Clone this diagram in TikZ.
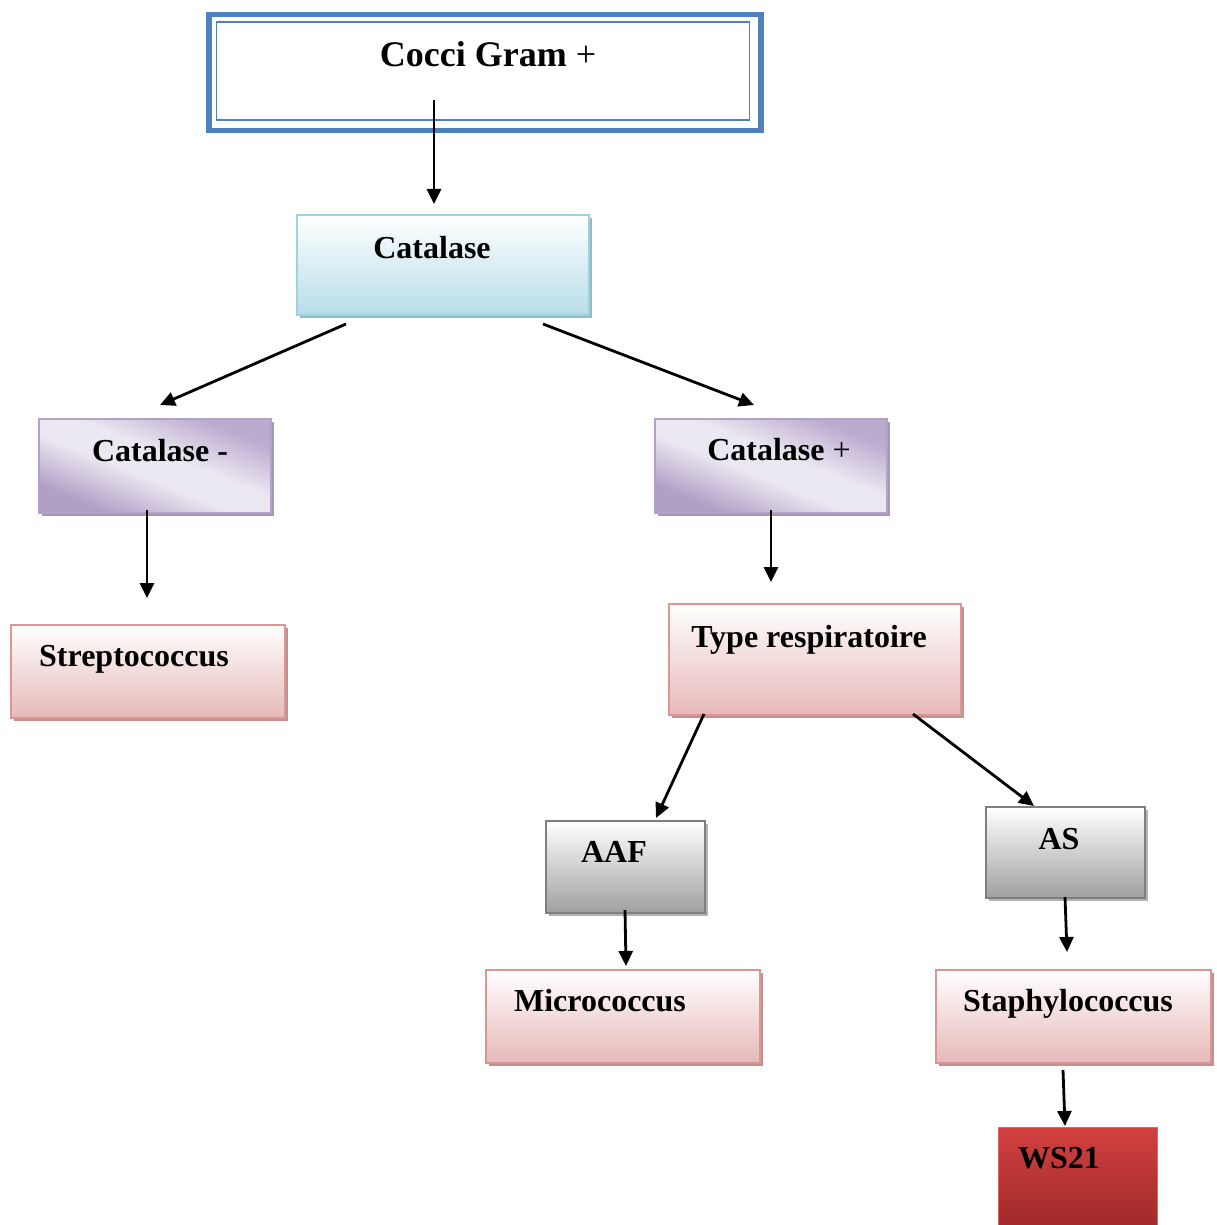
\documentclass[tikz,border=0pt]{standalone}
\usepackage{fontspec}
\setmainfont{Liberation Serif}
\usetikzlibrary{arrows.meta,shadows}

\definecolor{titleblue}{HTML}{4F81BD}
\definecolor{cyanedge}{HTML}{9DD3E0}
\definecolor{cyanfill}{HTML}{B6DEE8}
\definecolor{purpedge}{HTML}{B3A2C7}
\definecolor{purpdark}{HTML}{B1A0C6}
\definecolor{purptop}{HTML}{BBABCF}
\definecolor{purplight}{HTML}{ECE8F1}
\definecolor{pinkedge}{HTML}{D99694}
\definecolor{pinkfill}{HTML}{E6B9B8}
\definecolor{grayedge}{HTML}{7F7F7F}
\definecolor{grayfill}{HTML}{A0A0A0}
\definecolor{redtop}{HTML}{D24040}
\definecolor{redbot}{HTML}{A02A2A}

% soft diagonal wash: purple corners, broad light band in between
\pgfdeclareverticalshading{purpwash}{100bp}{%
  color(0bp)=(purpdark); color(27bp)=(purpdark); color(45bp)=(purplight);
  color(55bp)=(purplight); color(73bp)=(purptop); color(100bp)=(purptop)}

\tikzset{
  x=1pt, y=-1pt,
  box/.style={rectangle, inner sep=0pt, anchor=north west, line width=1.5pt},
  cyanbox/.style={box, draw=cyanedge, top color=white, bottom color=cyanfill,
    drop shadow={shadow xshift=3pt, shadow yshift=-3pt, fill=cyanedge!70!gray, opacity=1}},
  purpbox/.style={box, draw=purpedge, shading=purpwash, shading angle=-22,
    drop shadow={shadow xshift=3pt, shadow yshift=-3pt, fill=purpedge!70!gray, opacity=1}},
  pinkbox/.style={box, draw=pinkedge, top color=white, bottom color=pinkfill,
    drop shadow={shadow xshift=3pt, shadow yshift=-3pt, fill=pinkedge!75!gray, opacity=1}},
  graybox/.style={box, draw=grayedge, line width=2pt, top color=white, bottom color=grayfill,
    drop shadow={shadow xshift=3pt, shadow yshift=-3pt, fill=gray!60, opacity=1}},
  redbox/.style={box, draw=redtop!80!white, line width=1pt, top color=redtop, bottom color=redbot},
  lbl/.style={anchor=base, inner sep=0pt, font=\fontsize{32}{38}\selectfont\bfseries},
  arr/.style={line width=2.8pt, -{Triangle[length=15pt,width=14pt]}}
}

\begin{document}
\begin{tikzpicture}
\useasboundingbox (0,0) rectangle (1216,1225);

% title box with double blue frame
\node[box, draw=titleblue, line width=5.5pt, fill=white,
      minimum width=552pt, minimum height=116pt] (title) at (206,12) {};
\node[box, draw=titleblue, line width=1.6pt,
      minimum width=533pt, minimum height=98pt] (titlein) at (215.5,21) {};
\node[lbl, font=\fontsize{36}{42}\selectfont\bfseries] (ttitle) at (488,67) {Cocci Gram \textmd{+}};

% boxes
\node[cyanbox, minimum width=292pt, minimum height=100pt] (cat) at (296,214) {};
\node[lbl] (tcat) at (432,258) {Catalase};

\node[purpbox, minimum width=232pt, minimum height=94pt] (catneg) at (38,418) {};
\node[lbl] (tcatneg) at (160,461) {Catalase -};

\node[purpbox, minimum width=232pt, minimum height=94pt] (catpos) at (654,418) {};
\node[lbl] (tcatpos) at (779,460) {Catalase \textmd{+}};

\node[pinkbox, minimum width=274pt, minimum height=93pt] (strep) at (10,624) {};
\node[lbl] (tstrep) at (134,666) {Streptococcus};

\node[pinkbox, minimum width=292pt, minimum height=111pt] (resp) at (668,603) {};
\node[lbl] (tresp) at (809,647) {Type respiratoire};

\node[graybox, minimum width=159pt, minimum height=92pt] (aaf) at (545,820) {};
\node[lbl] (taaf) at (614,862) {AAF};

\node[graybox, minimum width=159pt, minimum height=91pt] (as) at (985,806) {};
\node[lbl] (tas) at (1059,849) {AS};

\node[pinkbox, minimum width=274pt, minimum height=93pt] (micro) at (485,969) {};
\node[lbl] (tmicro) at (600,1011) {Micrococcus};

\node[pinkbox, minimum width=275pt, minimum height=93pt] (staph) at (935,969) {};
\node[lbl] (tstaph) at (1068,1011) {Staphylococcus};

\node[redbox, minimum width=159pt, minimum height=100pt] (ws) at (998,1127) {};
\node[lbl] (tws) at (1059,1168) {WS21};

% connector end points
\coordinate (a1s) at (434,100);  \coordinate (a1e) at (434,204);
\coordinate (a2s) at (346,324);  \coordinate (a2e) at (160,405);
\coordinate (a3s) at (543,324);  \coordinate (a3e) at (754,405);
\coordinate (a4s) at (147,510);  \coordinate (a4e) at (147,598);
\coordinate (a5s) at (771,510);  \coordinate (a5e) at (771,582);
\coordinate (a6s) at (704,714);  \coordinate (a6e) at (656,818);
\coordinate (a7s) at (913,714);  \coordinate (a7e) at (1034,806);
\coordinate (a8s) at (625,910);  \coordinate (a8e) at (626,966);
\coordinate (a9s) at (1065,897); \coordinate (a9e) at (1067,952);
\coordinate (a10s) at (1063,1070); \coordinate (a10e) at (1065,1126);

\draw[arr] (a1s) -- (a1e);
\draw[arr] (a2s) -- (a2e);
\draw[arr] (a3s) -- (a3e);
\draw[arr] (a4s) -- (a4e);
\draw[arr] (a5s) -- (a5e);
\draw[arr] (a6s) -- (a6e);
\draw[arr] (a7s) -- (a7e);
\draw[arr] (a8s) -- (a8e);
\draw[arr] (a9s) -- (a9e);
\draw[arr] (a10s) -- (a10e);
\end{tikzpicture}
\end{document}
